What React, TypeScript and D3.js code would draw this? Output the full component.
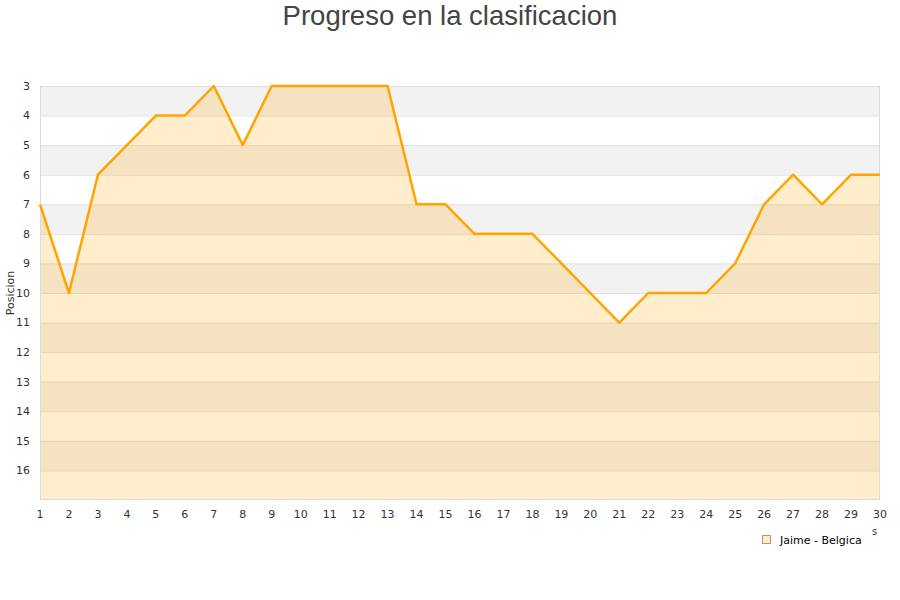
import React, { useRef, useEffect } from 'react';
import * as d3 from 'd3';

const jornadas = d3.range(1, 31);
const posiciones = [7, 10, 6, 5, 4, 4, 3, 5, 3, 3, 3, 3, 3, 7, 7, 8, 8, 8, 9, 10, 11, 10, 10, 10, 9, 7, 6, 7, 6, 6];
const yTicks = d3.range(3, 17);
const serieNombre = 'Jaime - Belgica';
const titulo = 'Progreso en la clasificacion';

const W = 900;
const H = 600;
const margin = { top: 86, right: 20, bottom: 100, left: 40 };

export default function App() {
  const svgRef = useRef<SVGSVGElement>(null);

  useEffect(() => {
    if (!svgRef.current) return;
    const svg = d3.select(svgRef.current);
    svg.selectAll('*').remove();

    const x = d3.scaleLinear().domain([1, 30]).range([margin.left, W - margin.right]);
    const y = d3.scaleLinear().domain([3, 17]).range([margin.top, H - margin.bottom]);

    // alternating bands
    svg.append('g')
      .selectAll('rect')
      .data(d3.range(3, 17))
      .join('rect')
      .attr('x', margin.left)
      .attr('width', W - margin.right - margin.left)
      .attr('y', d => y(d))
      .attr('height', d => y(d + 1) - y(d))
      .attr('fill', (d, i) => (i % 2 === 0 ? '#f2f2f2' : '#ffffff'));

    // grid lines
    svg.append('g')
      .selectAll('line')
      .data(yTicks)
      .join('line')
      .attr('x1', margin.left)
      .attr('x2', W - margin.right)
      .attr('y1', d => y(d) + 0.5)
      .attr('y2', d => y(d) + 0.5)
      .attr('stroke', '#e0e0e0')
      .attr('stroke-width', 1);

    const pts = jornadas.map((j, i) => [j, posiciones[i]] as [number, number]);

    const area = d3.area<[number, number]>()
      .x(d => x(d[0]))
      .y0(y(17))
      .y1(d => y(d[1]));

    svg.append('path')
      .attr('d', area(pts))
      .attr('fill', '#ffa500')
      .attr('fill-opacity', 0.2);

    // plot border
    svg.append('rect')
      .attr('x', margin.left + 0.5)
      .attr('y', margin.top + 0.5)
      .attr('width', W - margin.right - margin.left - 1)
      .attr('height', H - margin.bottom - margin.top - 1)
      .attr('fill', 'none')
      .attr('stroke', '#dcdcdc');

    const line = d3.line<[number, number]>()
      .x(d => x(d[0]))
      .y(d => y(d[1]));

    svg.append('path')
      .attr('d', line(pts))
      .attr('fill', 'none')
      .attr('stroke', '#ffa500')
      .attr('stroke-width', 2.5)
      .attr('stroke-linejoin', 'round');

    // y tick labels
    svg.append('g')
      .selectAll('text')
      .data(yTicks)
      .join('text')
      .attr('x', 30)
      .attr('y', d => y(d))
      .attr('dy', '0.35em')
      .attr('text-anchor', 'end')
      .attr('font-family', 'DejaVu Sans, sans-serif')
      .attr('font-size', 11)
      .attr('fill', '#333')
      .text(d => d);

    // x tick labels
    svg.append('g')
      .selectAll('text')
      .data(jornadas)
      .join('text')
      .attr('x', d => x(d))
      .attr('y', 518)
      .attr('text-anchor', 'middle')
      .attr('font-family', 'DejaVu Sans, sans-serif')
      .attr('font-size', 11)
      .attr('fill', '#333')
      .text(d => d);

    // y axis title
    svg.append('text')
      .attr('transform', `translate(14,${(margin.top + H - margin.bottom) / 2}) rotate(-90)`)
      .attr('text-anchor', 'middle')
      .attr('font-family', 'DejaVu Sans, sans-serif')
      .attr('font-size', 11)
      .attr('fill', '#333')
      .text('Posicion');

    // clipped x axis title remnants
    svg.append('text')
      .attr('x', 872)
      .attr('y', 535)
      .attr('font-family', 'DejaVu Sans, sans-serif')
      .attr('font-size', 10)
      .attr('fill', '#333')
      .text('s');

    // title
    svg.append('text')
      .attr('x', W / 2)
      .attr('y', 25)
      .attr('text-anchor', 'middle')
      .attr('font-family', 'Liberation Sans, Arial, sans-serif')
      .attr('font-size', 27.5)
      .attr('fill', '#444')
      .text(titulo);

    // legend
    const lg = svg.append('g').attr('transform', 'translate(762,535)');
    lg.append('rect')
      .attr('x', 0.5)
      .attr('y', 0.5)
      .attr('width', 8)
      .attr('height', 8)
      .attr('fill', '#ffedcc')
      .attr('stroke', '#b89a6a');
    lg.append('text')
      .attr('x', 18)
      .attr('y', 8.5)
      .attr('font-family', 'DejaVu Sans, sans-serif')
      .attr('font-size', 11)
      .attr('fill', '#000')
      .text(serieNombre);
  }, []);

  return (
    <svg
      ref={svgRef}
      width={W}
      height={H}
      style={{ position: 'absolute', left: 0, top: 0, background: '#fff' }}
    />
  );
}
